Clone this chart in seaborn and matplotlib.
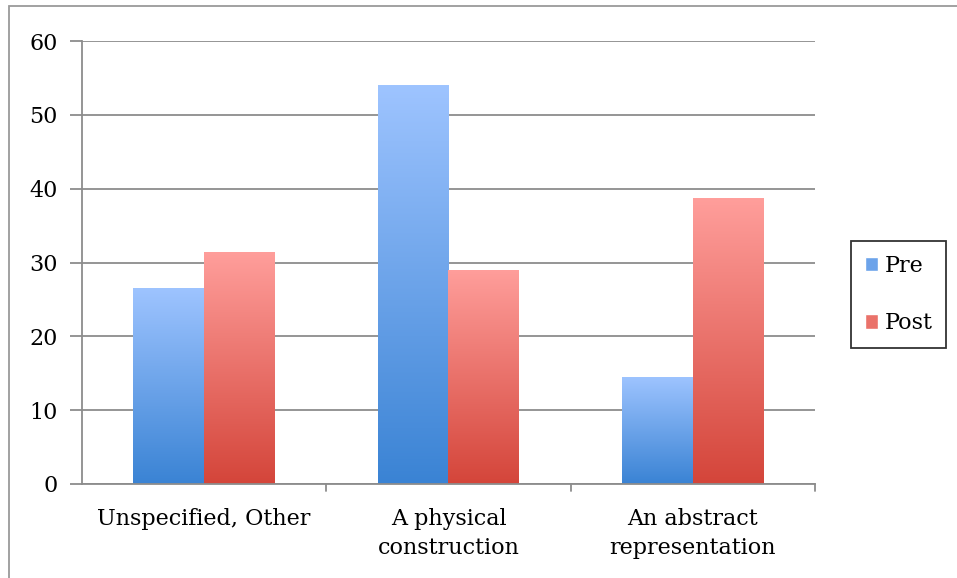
import matplotlib
matplotlib.use('Agg')
import matplotlib.pyplot as plt
import matplotlib.colors as mcolors
from matplotlib.patches import Rectangle
import numpy as np
import pandas as pd
import seaborn as sns

# data
categories = ['Unspecified, Other', 'A physical\nconstruction', 'An abstract\nrepresentation']
pre_values = [26.5, 54.0, 14.5]
post_values = [31.4, 29.0, 38.7]
series = ['Pre', 'Post']
yticks = [0, 10, 20, 30, 40, 50, 60]

# gradient ends (top, bottom)
grad = {
    'Pre': ('#9EC4FF', '#3A83D4'),
    'Post': ('#FF9E9B', '#D4453A'),
}

df = pd.DataFrame({
    'category': categories * 2,
    'series': ['Pre'] * 3 + ['Post'] * 3,
    'value': pre_values + post_values,
})

sns.set_style('white')
plt.rcParams['font.family'] = ['DejaVu Serif']
plt.rcParams['text.color'] = 'black'
plt.rcParams['xtick.color'] = 'black'
plt.rcParams['ytick.color'] = 'black'

FS = 16

fig = plt.figure(figsize=(9.57, 5.78), dpi=100)
ax = fig.add_axes([82 / 957, 1 - 484 / 578, (815 - 82) / 957, (484 - 41) / 578])

palette = {s: grad[s][1] for s in series}
sns.barplot(data=df, x='category', y='value', hue='series', hue_order=series,
            order=categories, palette=palette, width=0.58, ax=ax,
            saturation=1, errorbar=None, legend=False)

ax.set_ylim(0, 60)
ax.set_xlim(-0.5, 2.5)
ax.set_yticks(yticks)
ax.yaxis.grid(True, color='#8c8c8c', linewidth=1.3)
ax.set_axisbelow(True)
ax.set_xlabel('')
ax.set_ylabel('')

# gradient fill on each bar
for cont, s in zip(ax.containers, series):
    cmap = mcolors.LinearSegmentedColormap.from_list(s, [grad[s][1], grad[s][0]])
    for bar in cont:
        x0, y0 = bar.get_x(), bar.get_y()
        w, h = bar.get_width(), bar.get_height()
        g = np.linspace(0, 1, 256).reshape(-1, 1)
        im = ax.imshow(g, cmap=cmap, origin='lower', aspect='auto',
                       extent=[x0, x0 + w, y0, y0 + h], zorder=bar.get_zorder())
        im.set_clip_path(bar)
        bar.set_facecolor('none')
        bar.set_edgecolor('none')
ax.set_xlim(-0.5, 2.5)
ax.set_ylim(0, 60)

for sp in ['top', 'right']:
    ax.spines[sp].set_visible(False)
for sp in ['left', 'bottom']:
    ax.spines[sp].set_color('#8c8c8c')
    ax.spines[sp].set_linewidth(1.3)

ax.tick_params(axis='y', length=9, width=1.3, color='#8c8c8c', labelcolor='black',
               labelsize=FS, pad=8.5, left=True)
ax.set_xticks(range(len(categories)))
ax.set_xticklabels(categories, fontsize=FS, linespacing=1.45, color='black')
ax.tick_params(axis='x', length=0, pad=17)
for xm in [0.5, 1.5, 2.5]:
    ax.plot([xm, xm], [0, -1.0], color='#8c8c8c', lw=1.3, clip_on=False)

# legend
handles = [Rectangle((0, 0), 1, 1, facecolor=mcolors.to_hex(np.mean(
    [mcolors.to_rgb(grad[s][0]), mcolors.to_rgb(grad[s][1])], axis=0))) for s in series]
leg = fig.legend(handles, series, loc='center', bbox_to_anchor=(898.5 / 957, 1 - 294.5 / 578),
                 frameon=True, fancybox=False, fontsize=FS, handlelength=0.6, handleheight=0.6,
                 handletextpad=0.3, labelspacing=1.6, borderpad=0.6, borderaxespad=0)
leg.get_frame().set_edgecolor('black')
leg.get_frame().set_linewidth(1.3)

# outer chart border
fig.patches.append(Rectangle((9 / 957, -0.01), 1.0, 1 - 6 / 578 + 0.01, transform=fig.transFigure,
                             fill=False, edgecolor='#9a9a9a', linewidth=1.3))

fig.savefig('out.png', dpi=100)
